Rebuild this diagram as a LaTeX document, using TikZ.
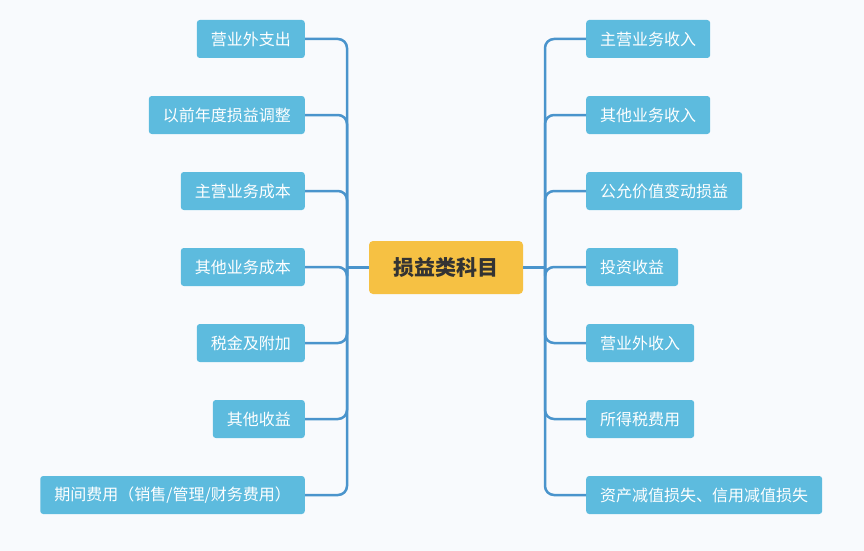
\documentclass[tikz,border=0pt]{standalone}
\usepackage{fontspec}
\newfontfamily\cjk{Noto Sans CJK SC}
\definecolor{bg}{HTML}{F8FAFD}
\definecolor{leaf}{HTML}{5DBBDE}
\definecolor{line}{HTML}{4A94CC}
\definecolor{ctr}{HTML}{F6C143}
\tikzset{
 leafbox/.style={fill=leaf,rounded corners=3pt,text=white,font=\cjk\fontsize{16}{19}\selectfont,minimum height=38pt,inner xsep=14pt},
 ctrbox/.style={fill=ctr,rounded corners=4pt,text=black!80,font=\cjk\bfseries\fontsize{21}{24}\selectfont,minimum height=53pt,minimum width=154pt},
 conn/.style={draw=line,line width=2.5pt,rounded corners=9pt}
}
\begin{document}
\begin{tikzpicture}[x=1pt,y=-1pt]
\fill[bg] (0,0) rectangle (864,551);
\useasboundingbox (0,0) rectangle (864,551);
\node[ctrbox] (c) at (446,267.5) {损益类科目};
\coordinate (L) at (347,267.5);
\coordinate (R) at (545,267.5);
\draw[conn] (c.west) -- (L);
\draw[conn] (c.east) -- (R);
\foreach \n/\t [count=\i] in {l1/营业外支出,l2/以前年度损益调整,l3/主营业务成本,l4/其他业务成本,l5/税金及附加,l6/其他收益,l7/{期间费用（销售/管理/财务费用）}}{
  \node[leafbox,anchor=east] (\n) at (305,{39+76*(\i-1)}) {\t};
  \draw[conn] (L) |- (\n.east);
}
\foreach \n/\t [count=\i] in {r1/主营业务收入,r2/其他业务收入,r3/公允价值变动损益,r4/投资收益,r5/营业外收入,r6/所得税费用,r7/资产减值损失、信用减值损失}{
  \node[leafbox,anchor=west] (\n) at (586,{39+76*(\i-1)}) {\t};
  \draw[conn] (R) |- (\n.west);
}
\end{tikzpicture}
\end{document}
